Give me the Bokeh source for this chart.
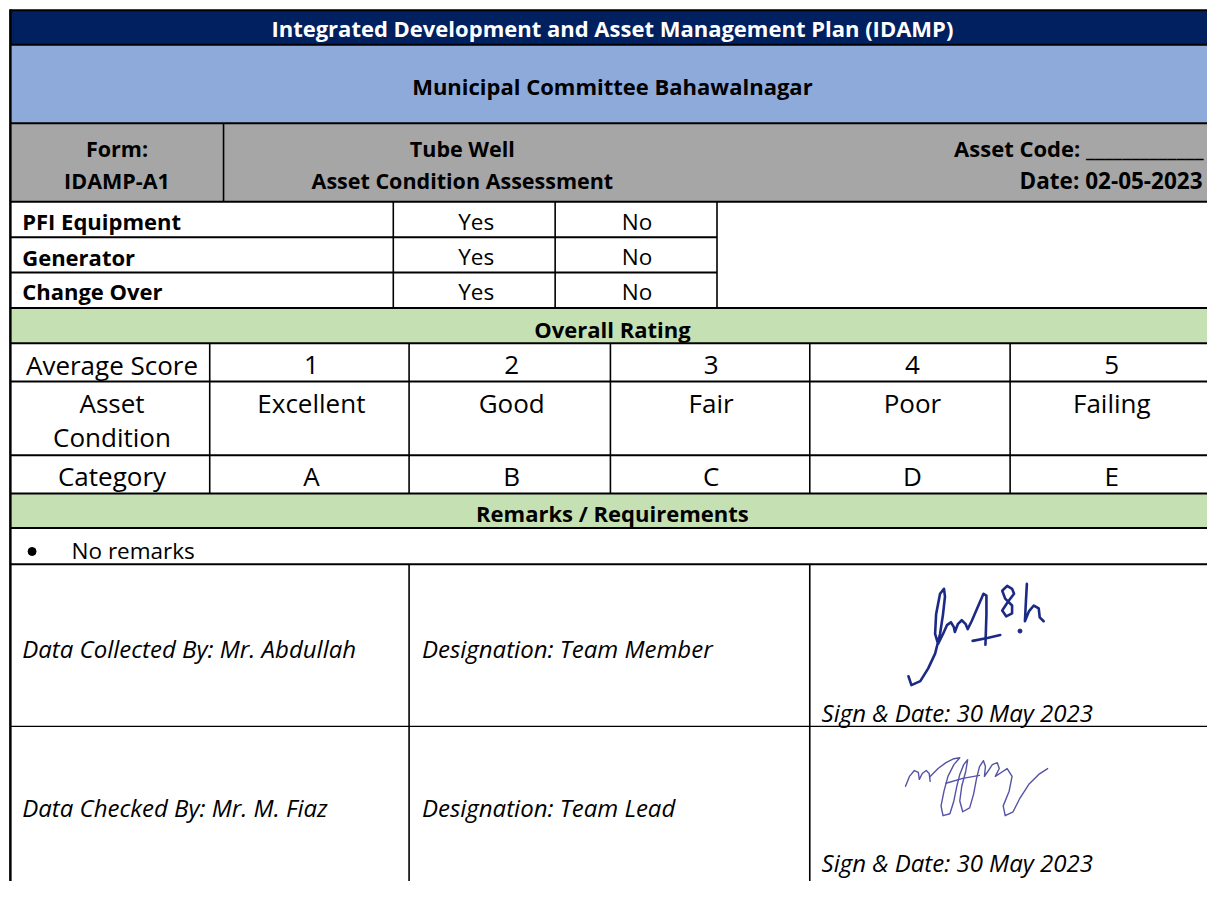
from bokeh.plotting import figure
from bokeh.models import Range1d
from bokeh.core.properties import value
from bokeh.embed import file_html
from bokeh.resources import INLINE

# ---------------- content ----------------
TITLE = "Integrated Development and Asset Management Plan (IDAMP)"
SUBTITLE = "Municipal Committee Bahawalnagar"
FORM_LINES = ["Form:", "IDAMP-A1"]
ASSET_LINES = ["Tube Well", "Asset Condition Assessment"]
CODE_LINES = ["Asset Code: _____________", "Date: 02-05-2023"]
EQUIPMENT = ["PFI Equipment", "Generator", "Change Over"]
YES_NO = ["Yes", "No"]
RATING_TITLE = "Overall Rating"
ROW_LABELS = ["Average Score", "Asset", "Condition", "Category"]
SCORES = ["1", "2", "3", "4", "5"]
CONDITIONS = ["Excellent", "Good", "Fair", "Poor", "Failing"]
CATEGORIES = ["A", "B", "C", "D", "E"]
REMARKS_TITLE = "Remarks / Requirements"
REMARKS = ["No remarks"]
PEOPLE = ["Data Collected By: Mr. Abdullah", "Data Checked By: Mr. M. Fiaz"]
DESIGNATIONS = ["Designation: Team Member", "Designation: Team Lead"]
SIGN_DATES = ["Sign & Date: 30 May 2023", "Sign & Date: 30 May 2023"]

# signature strokes (hand-drawn decoration)
SIGN1 = [
    [(920, 688), (923, 697), (932, 693), (940, 680), (947, 665), (952, 645), (955, 625), (957, 607), (956, 599), (952, 604), (948, 625), (947, 645), (950, 655), (955, 645), (959, 636), (963, 633), (966, 638), (967, 643), (970, 635), (974, 631), (978, 635), (980, 640), (984, 632), (990, 618), (996, 604), (999, 606), (999, 625), (998, 656)],
    [(985, 652), (1000, 649), (1013, 646)],
    [(1025, 599), (1020, 596), (1015, 601), (1018, 609), (1025, 616), (1025, 624), (1019, 627), (1015, 621), (1021, 612), (1027, 604), (1025, 599)],
    [(1040, 594), (1039, 612), (1038, 632), (1042, 622), (1047, 616), (1052, 619), (1053, 628), (1057, 632)],
]
SIGN1_DOT = [(1033, 642)]
SIGN2 = [
    [(917, 800), (921, 790), (926, 784), (930, 786), (931, 793), (934, 787), (938, 784), (941, 787), (942, 795)],
    [(942, 790), (950, 782), (958, 776), (966, 772), (972, 771), (966, 778), (960, 790), (956, 805), (953, 820), (955, 830), (962, 828), (966, 815), (969, 800), (972, 788), (976, 778), (980, 773), (978, 785), (974, 800), (972, 815), (975, 826), (982, 822), (986, 808), (989, 792), (992, 780), (996, 774), (998, 780), (997, 790), (1001, 784), (1005, 778), (1010, 776), (1012, 782), (1008, 790), (1014, 786), (1020, 782), (1025, 790), (1022, 805), (1016, 820), (1018, 830), (1026, 826), (1033, 812), (1042, 798), (1052, 788), (1061, 782)],
    [(958, 797), (975, 792), (992, 789)],
]

# ---------------- colours ----------------
NAVY = "#002060"
LIGHT_BLUE = "#8EAADB"
GREY = "#A6A6A6"
GREEN = "#C5E0B3"
INK1 = "#1B2A85"
INK2 = "#5553A6"
FONT = value("Open Sans")

p = figure(width=1207, height=881,
           x_range=Range1d(0, 1223), y_range=Range1d(897, 0),
           output_backend="svg", toolbar_location=None,
           x_axis_location=None, y_axis_location=None,
           min_border=0, background_fill_color="white")
p.grid.visible = False
p.outline_line_color = None

XL, XR = 10, 1232

# ---------------- fills ----------------
band_top = [10, 45, 125, 313, 502]
band_bot = [45, 125, 205, 349, 537]
band_col = [NAVY, LIGHT_BLUE, GREY, GREEN, GREEN]
p.quad(left=[XL] * 5, right=[XR] * 5, top=band_top, bottom=band_bot,
       fill_color=band_col, line_color=None)

# ---------------- rules ----------------
hy = [10, 45, 125, 205, 313, 349, 388, 463, 502, 537, 574]
p.segment(x0=[XL] * len(hy), x1=[XR] * len(hy), y0=hy, y1=hy,
          line_color="black", line_width=2)
p.segment(x0=[XL, XL], x1=[726, 726], y0=[241, 277], y1=[241, 277],
          line_color="black", line_width=2)
p.segment(x0=[XL], x1=[XR], y0=[739], y1=[739], line_color="black", line_width=1.2)
vx = [226, 398, 562, 726, 212, 414, 618, 820, 1023, 414, 820]
vy0 = [125, 205, 205, 205, 349, 349, 349, 349, 349, 574, 574]
vy1 = [205, 313, 313, 313, 502, 502, 502, 502, 502, 905, 905]
p.segment(x0=vx, x1=vx, y0=vy0, y1=vy1, line_color="black", line_width=1.6)
p.segment(x0=[XL], x1=[XL], y0=[9], y1=[905], line_color="black", line_width=2.5)


def txt(x, y, s, size, style="normal", align="left", color="black"):
    p.text(x=[x], y=[y], text=[s], text_font=FONT, text_font_size=f"{size}px",
           text_font_style=style, text_align=align, text_baseline="middle",
           text_color=color)


# header
txt(620, 28, TITLE, 22, "bold", "center", "white")
txt(620, 87.5, SUBTITLE, 22, "bold", "center")
txt(118, 150.5, FORM_LINES[0], 21.5, "bold", "center")
txt(118, 183, FORM_LINES[1], 21.5, "bold", "center")
txt(468, 150.5, ASSET_LINES[0], 21.5, "bold", "center")
txt(468, 183, ASSET_LINES[1], 21.5, "bold", "center")
txt(1219, 150.5, CODE_LINES[0], 22, "bold", "right")
txt(1218, 183, CODE_LINES[1], 22.5, "bold", "right")

# equipment
eq_mid = [225, 261, 296]
for lab, m in zip(EQUIPMENT, eq_mid):
    txt(22, m, lab, 22, "bold")
    txt(482, m, YES_NO[0], 22.5, "normal", "center")
    txt(645, m, YES_NO[1], 22.5, "normal", "center")

# rating
txt(620, 334.5, RATING_TITLE, 22, "bold", "center")
txt(113, 371.5, ROW_LABELS[0], 26, "normal", "center")
txt(113, 409.5, ROW_LABELS[1], 26, "normal", "center")
txt(113, 444.5, ROW_LABELS[2], 26, "normal", "center")
txt(113, 484.5, ROW_LABELS[3], 26, "normal", "center")
col_cx = [315, 518, 720, 924, 1126]
for cx, s, c, k in zip(col_cx, SCORES, CONDITIONS, CATEGORIES):
    txt(cx, 371.5, s, 26, "normal", "center")
    txt(cx, 409.5, c, 26, "normal", "center")
    txt(cx, 484.5, k, 26, "normal", "center")

# remarks
txt(620, 521.5, REMARKS_TITLE, 22, "bold", "center")
p.scatter(x=[32], y=[561], size=8, marker="circle", fill_color="black", line_color="black")
txt(72, 559.5, REMARKS[0], 22.5)

# sign-off rows
for m, sm, who, des, sd in zip([660, 822], [724.5, 878], PEOPLE, DESIGNATIONS, SIGN_DATES):
    txt(22, m, who, 24, "italic")
    txt(427, m, des, 24, "italic")
    txt(832, sm, sd, 24, "italic")

# signatures
p.multi_line(xs=[[pt[0] for pt in s] for s in SIGN1], ys=[[pt[1] for pt in s] for s in SIGN1],
             line_color=INK1, line_width=2.6, line_join="round", line_cap="round")
p.scatter(x=[d[0] for d in SIGN1_DOT], y=[d[1] for d in SIGN1_DOT], size=4,
          fill_color=INK1, line_color=INK1)
p.multi_line(xs=[[pt[0] for pt in s] for s in SIGN2], ys=[[pt[1] for pt in s] for s in SIGN2],
             line_color=INK2, line_width=1.4, line_join="round", line_cap="round")

open("out.html", "w").write(file_html(p, INLINE))
